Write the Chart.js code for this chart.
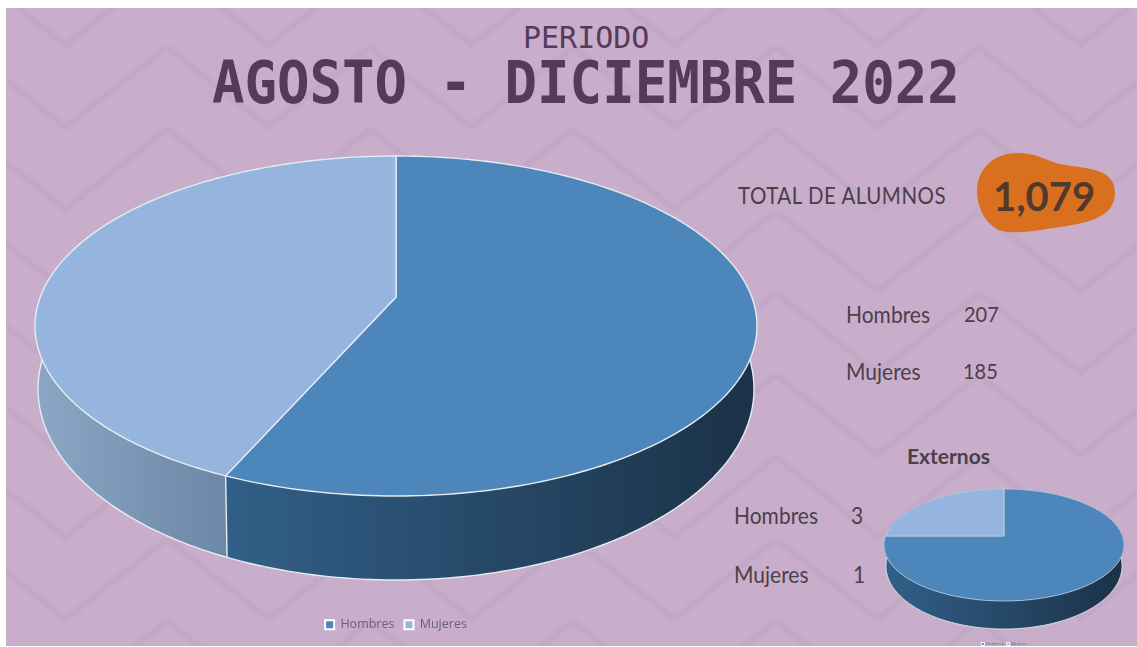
<!DOCTYPE html>
<html>
<head>
    <title>Periodo Agosto - Diciembre 2022</title>
    <meta charset="UTF-8" />
    <script src="https://cdn.jsdelivr.net/npm/chart.js"></script>
    <style>
  html, body { margin: 0; padding: 0; background: #fff; overflow: hidden; }
  #slide {
    position: absolute; left: 6px; top: 8px; width: 1131px; height: 638px; overflow: hidden;
    background-color: #c9aecb;
    background-image: url("data:image/svg+xml,%3Csvg xmlns='http://www.w3.org/2000/svg' width='203' height='82'%3E%3Cg fill='none' stroke='%23c3a9c6' stroke-width='7'%3E%3Cpath d='M0 -82L101.5 -2L203 -82'/%3E%3Cpath d='M0 0L101.5 80L203 0'/%3E%3Cpath d='M0 82L101.5 162L203 82'/%3E%3C/g%3E%3C/svg%3E");
    background-position: 161px 39px;
  }
  canvas { position: absolute; }
  .t { position: absolute; white-space: nowrap; transform-origin: 0 0; color: #4b4049; font-family: "Lato", sans-serif; line-height: 1; }
  .title { font-family: "DejaVu Sans Mono", monospace; font-weight: bold; color: #553a5c; }
  #blob { position: absolute; left: 0; top: 0; }
    </style>
</head>
<body>
<div id="slide"></div>
<svg id="blob" width="1137" height="647">
  <path fill="#d9701f" d="M977 190C978 165 998 152 1020 153C1038 154 1045 160 1060 164C1082 169 1115 166 1115 193C1115 216 1090 223 1060 227C1040 230 1025 233 1008 232C990 231 977 212 977 190Z"/>
</svg>
<div class="t title" style="left:523px;top:23px;font-size:30px;font-weight:normal">PERIODO</div>
<div class="t title" style="left:212px;top:55px;font-size:54px;transform:scaleY(1.07)">AGOSTO - DICIEMBRE 2022</div>
<div class="t" style="left:738px;top:184px;font-size:20.5px;letter-spacing:0.5px;transform:scaleY(1.1)">TOTAL DE ALUMNOS</div>
<div class="t" style="left:993px;top:176px;font-size:40px;font-weight:bold;color:#513a2c">1,079</div>
<div class="t" style="left:846px;top:302px;font-size:21px;transform:scaleY(1.1)">Hombres</div>
<div class="t" style="left:964px;top:302px;font-size:20px;transform:scaleY(1.1)">207</div>
<div class="t" style="left:846px;top:359px;font-size:21px;transform:scaleY(1.1)">Mujeres</div>
<div class="t" style="left:963px;top:359px;font-size:20px;transform:scaleY(1.1)">185</div>
<div class="t" style="left:907px;top:445px;font-size:21px;font-weight:bold">Externos</div>
<div class="t" style="left:734px;top:503px;font-size:21px;transform:scaleY(1.1)">Hombres</div>
<div class="t" style="left:851px;top:503px;font-size:21px;transform:scaleY(1.1)">3</div>
<div class="t" style="left:734px;top:562px;font-size:21px;transform:scaleY(1.1)">Mujeres</div>
<div class="t" style="left:853px;top:562px;font-size:21px;transform:scaleY(1.1)">1</div>
<canvas id="mainPie" width="752" height="501" style="left:20px;top:140px"></canvas>
<canvas id="smallPie" width="250" height="176" style="left:879px;top:480px"></canvas>
<script>
const categories = ['Hombres', 'Mujeres'];
const mainValues = [611, 468];
const externosValues = [3, 1];
const topColors = ['#4d86bb', '#95b5de'];
const wallColors = [['#325f88', '#1b3248'], ['#8aa7c6', '#6d87a6']];
const outline = '#e4edf2';

// flat pie seen from above: same angles the library works out, projected on an ellipse
const tiltPie = {
    id: 'tiltPie',
    beforeDatasetDraw(chart, args, o) {
        const ctx = chart.ctx;
        const e = o.shift;
        const steps = 180;
        // th is the clockwise angle from the top
        const project = (th, cy, rx, ry) => {
            const X = Math.sin(th), Y = -Math.cos(th);
            const d = 1 - e * Y;
            return { x: chart.width / 2 + rx * X * Math.sqrt(1 - e * e) / d, y: cy + ry * (Y - e) / d, low: Y >= -e };
        };
        const arcs = args.meta.data;
        const sample = (arc, cy, rx, ry) => {
            const s = arc.startAngle + Math.PI / 2, t = arc.endAngle + Math.PI / 2;
            const pts = [];
            for (let i = 0; i <= steps; i++) pts.push(project(s + (t - s) * i / steps, cy, rx, ry));
            return pts;
        };
        ctx.save();
        ctx.lineJoin = 'round';
        arcs.forEach((arc, i) => {
            const rx = arc.outerRadius;
            const up = sample(arc, o.cy, rx, o.ry);
            const down = sample(arc, o.wallCy, o.wallRx, o.wallRy);
            const low = down.filter(p => p.low);
            if (!low.length) return;
            const xs = low.map(p => p.x);
            const grad = ctx.createLinearGradient(Math.min(...xs), 0, Math.max(...xs), 0);
            grad.addColorStop(0, wallColors[i][0]);
            grad.addColorStop(1, wallColors[i][1]);
            ctx.beginPath();
            up.forEach((p, k) => k ? ctx.lineTo(p.x, p.y) : ctx.moveTo(p.x, p.y));
            [...down].reverse().forEach(p => ctx.lineTo(p.x, p.y));
            ctx.closePath();
            ctx.fillStyle = grad;
            ctx.fill();
            // lower rim and the seam between the two slices
            ctx.strokeStyle = outline;
            ctx.lineWidth = o.line;
            ctx.beginPath();
            low.forEach((p, k) => k ? ctx.lineTo(p.x, p.y) : ctx.moveTo(p.x, p.y));
            ctx.stroke();
            if (down[0].low) {
                ctx.beginPath();
                ctx.moveTo(up[0].x, up[0].y);
                ctx.lineTo(down[0].x, down[0].y);
                ctx.stroke();
            }
        });
        arcs.forEach((arc, i) => {
            const rx = arc.outerRadius;
            const up = sample(arc, o.cy, rx, o.ry);
            const apex = { x: chart.width / 2, y: o.cy - o.ry * e };
            ctx.beginPath();
            ctx.moveTo(apex.x, apex.y);
            up.forEach(p => ctx.lineTo(p.x, p.y));
            ctx.closePath();
            ctx.fillStyle = topColors[i];
            ctx.fill();
            ctx.strokeStyle = o.edge;
            ctx.lineWidth = o.line;
            ctx.stroke();
        });
        ctx.restore();
        return false;
    }
};

function makePie(id, values, radius, legendFont, box, gap, tilt) {
    return new Chart(document.getElementById(id), {
        type: 'pie',
        data: {
            labels: categories,
            datasets: [{ data: values, backgroundColor: topColors, borderColor: '#ffffff', borderWidth: box > 5 ? 2 : 1 }]
        },
        plugins: [tiltPie],
        options: {
            responsive: false,
            animation: false,
            radius: radius,
            plugins: {
                tooltip: { enabled: false },
                tiltPie: tilt,
                legend: {
                    position: 'bottom',
                    labels: {
                        color: '#6a6080',
                        boxWidth: box,
                        boxHeight: box,
                        padding: gap,
                        font: { family: 'Open Sans', size: legendFont }
                    }
                }
            }
        }
    });
}

makePie('mainPie', mainValues, 361, 12.5, 9, 10,
    { cy: 186, ry: 170, shift: 0.17, wallCy: 249, wallRx: 358, wallRy: 191, line: 1.4, edge: outline });
makePie('smallPie', externosValues, 120, 4, 3, 3,
    { cy: 65, ry: 56, shift: 0.16, wallCy: 86, wallRx: 118, wallRy: 63, line: 0.8, edge: '#b9cfe4' });
</script>
</body>
</html>
